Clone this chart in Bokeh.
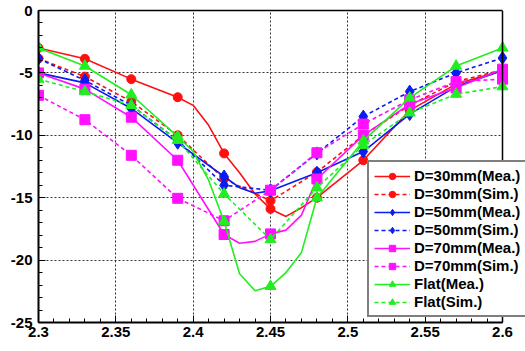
from bokeh.plotting import figure
from bokeh.models import FixedTicker, Range1d, Legend, LinearAxis, Span
from bokeh.embed import file_html
from bokeh.resources import INLINE

# ---- data ----
freq = [2.30, 2.33, 2.36, 2.39, 2.42, 2.45, 2.48, 2.51, 2.54, 2.57, 2.60]

red_mea_f = [2.30, 2.33, 2.36, 2.39, 2.40, 2.41, 2.42, 2.43, 2.44, 2.45, 2.46, 2.47, 2.48, 2.51, 2.54, 2.57, 2.60]
red_mea = [-3.0, -3.87, -5.5, -6.95, -7.6, -9.2, -11.45, -13.0, -14.7, -15.9, -16.5, -15.8, -15.0, -12.0, -8.0, -5.9, -4.8]

blue_mea_f = [2.30, 2.33, 2.36, 2.39, 2.42, 2.43, 2.44, 2.45, 2.48, 2.51, 2.54, 2.57, 2.60]
blue_mea = [-5.0, -5.8, -7.85, -10.6, -13.3, -14.2, -14.65, -14.45, -13.0, -11.3, -8.3, -6.1, -4.8]

mag_mea_f = [2.30, 2.33, 2.36, 2.39, 2.42, 2.43, 2.44, 2.45, 2.46, 2.47, 2.48, 2.51, 2.54, 2.57, 2.60]
mag_mea = [-5.0, -6.3, -8.55, -12.0, -17.95, -18.65, -18.5, -17.9, -17.6, -16.4, -13.5, -10.0, -7.5, -6.2, -4.7]

green_mea_f = [2.30, 2.33, 2.36, 2.39, 2.40, 2.41, 2.42, 2.43, 2.44, 2.45, 2.46, 2.47, 2.48, 2.51, 2.54, 2.57, 2.60]
green_mea = [-3.0, -4.45, -6.75, -10.1, -11.3, -13.6, -16.9, -21.1, -22.45, -22.1, -21.0, -19.4, -15.0, -10.45, -7.0, -4.45, -3.0]

red_sim = [-3.85, -5.3, -7.3, -10.0, -13.5, -15.25, -12.95, -10.0, -7.6, -5.7, -4.75]
blue_sim = [-3.85, -5.6, -7.6, -10.4, -14.0, -14.4, -11.45, -8.5, -6.5, -5.0, -3.8]
mag_sim = [-6.8, -8.75, -11.6, -15.05, -16.85, -14.4, -11.4, -9.1, -7.15, -5.7, -5.5]
green_sim = [-5.5, -6.5, -7.6, -10.4, -14.7, -18.35, -14.2, -10.8, -8.2, -6.7, -6.1]

x_ticks = [2.30, 2.35, 2.40, 2.45, 2.50, 2.55, 2.60]
x_tick_labels = ["2.3", "2.35", "2.4", "2.45", "2.5", "2.55", "2.6"]
y_ticks = [0, -5, -10, -15, -20, -25]
y_tick_labels = ["0", "-5", "-10", "-15", "-20", "-25"]

FONT = "Liberation Sans"
X0, X1 = 2.3, 2.6
Y0, Y1 = -25, 0
# frame runs to the window edge so the legend can overhang the plotted area
frame_px = 525 - 38
plot_px = 464
x_end = X0 + (X1 - X0) * frame_px / plot_px

p = figure(width=525, height=351, output_backend="svg", toolbar_location=None,
           x_range=Range1d(X0, x_end), y_range=Range1d(Y0, Y1),
           min_border_left=38, min_border_right=0, min_border_top=10, min_border_bottom=29)
p.background_fill_color = "white"
p.border_fill_color = "white"
p.outline_line_color = None

x_minor = [round(2.30 + 0.01 * i, 2) for i in range(31)]
y_minor = [-i for i in range(26)]
p.xaxis.ticker = FixedTicker(ticks=x_ticks, minor_ticks=x_minor)
p.yaxis.ticker = FixedTicker(ticks=y_ticks, minor_ticks=y_minor)
p.xaxis.major_label_overrides = {t: l for t, l in zip(x_ticks, x_tick_labels)}
p.yaxis.major_label_overrides = {t: l for t, l in zip(y_ticks, y_tick_labels)}
p.xaxis.bounds = (X0, X1)

for ax in (p.xaxis[0], p.yaxis[0]):
    ax.axis_line_width = 2
    ax.axis_line_color = "black"
    ax.major_tick_in = 7
    ax.major_tick_out = 0
    ax.minor_tick_in = 4
    ax.minor_tick_out = 0
    ax.major_tick_line_color = "black"
    ax.minor_tick_line_color = "black"
    ax.major_label_text_font = FONT
    ax.major_label_text_font_style = "bold"
    ax.major_label_text_font_size = "15px"
    ax.major_label_text_color = "black"
p.xaxis.major_label_standoff = 4
p.yaxis.major_label_standoff = 6

for g in (p.xgrid[0], p.ygrid[0]):
    g.grid_line_color = "#333333"
    g.grid_line_dash = "2 2"
    g.grid_line_width = 1
try:
    p.ygrid[0].cross_bounds = (X0, X1)
except Exception:
    pass

# top and right borders of the plotted area
top_axis = LinearAxis(ticker=FixedTicker(ticks=[]), bounds=(X0, X1),
                      axis_line_color="black", axis_line_width=1.5,
                      major_label_text_font_size="0px", major_tick_in=0, major_tick_out=0,
                      minor_tick_in=0, minor_tick_out=0, major_label_standoff=0)
p.add_layout(top_axis, "above")
p.add_layout(Span(location=X1, dimension="height", line_color="black", line_width=1.5))

RED = "#ff1010"
BLUE = "#0a1cf0"
MAG = "#ff10ff"
GRN = "#20ee20"

series = [
    ("D=30mm(Mea.)", red_mea_f, red_mea, RED, "solid", "circle", 9),
    ("D=30mm(Sim.)", freq, red_sim, RED, "4 3", "circle", 9),
    ("D=50mm(Mea.)", blue_mea_f, blue_mea, BLUE, "solid", "diamond", 13),
    ("D=50mm(Sim.)", freq, blue_sim, BLUE, "4 3", "diamond", 13),
    ("D=70mm(Mea.)", mag_mea_f, mag_mea, MAG, "solid", "square", 10),
    ("D=70mm(Sim.)", freq, mag_sim, MAG, "4 3", "square", 10),
    ("Flat(Mea.)", green_mea_f, green_mea, GRN, "solid", "triangle", 11),
    ("Flat(Sim.)", freq, green_sim, GRN, "4 3", "triangle", 11),
]

items = []
for label, fx, fy, col, dash, mk, sz in series:
    r1 = p.line(fx, fy, line_color=col, line_width=1.6, line_dash=dash)
    mx = [f for f in fx if any(abs(f - m) < 1e-9 for m in freq)]
    my = [v for f, v in zip(fx, fy) if any(abs(f - m) < 1e-9 for m in freq)]
    r2 = p.scatter(mx, my, marker=mk, size=sz, fill_color=col, line_color=col)
    items.append((label, [r1, r2]))

legend = Legend(items=items, location=(329, 5))
legend.label_text_font = FONT
legend.label_text_font_style = "bold"
legend.label_text_font_size = "15px"
legend.label_text_color = "black"
legend.glyph_width = 36
legend.glyph_height = 16
legend.label_height = 16
legend.spacing = 1
legend.padding = 5
legend.margin = 0
legend.label_standoff = 4
legend.border_line_color = "black"
legend.border_line_width = 2
legend.background_fill_color = "white"
legend.background_fill_alpha = 1
p.add_layout(legend, "center")

open("out.html", "w").write(file_html(p, INLINE))
